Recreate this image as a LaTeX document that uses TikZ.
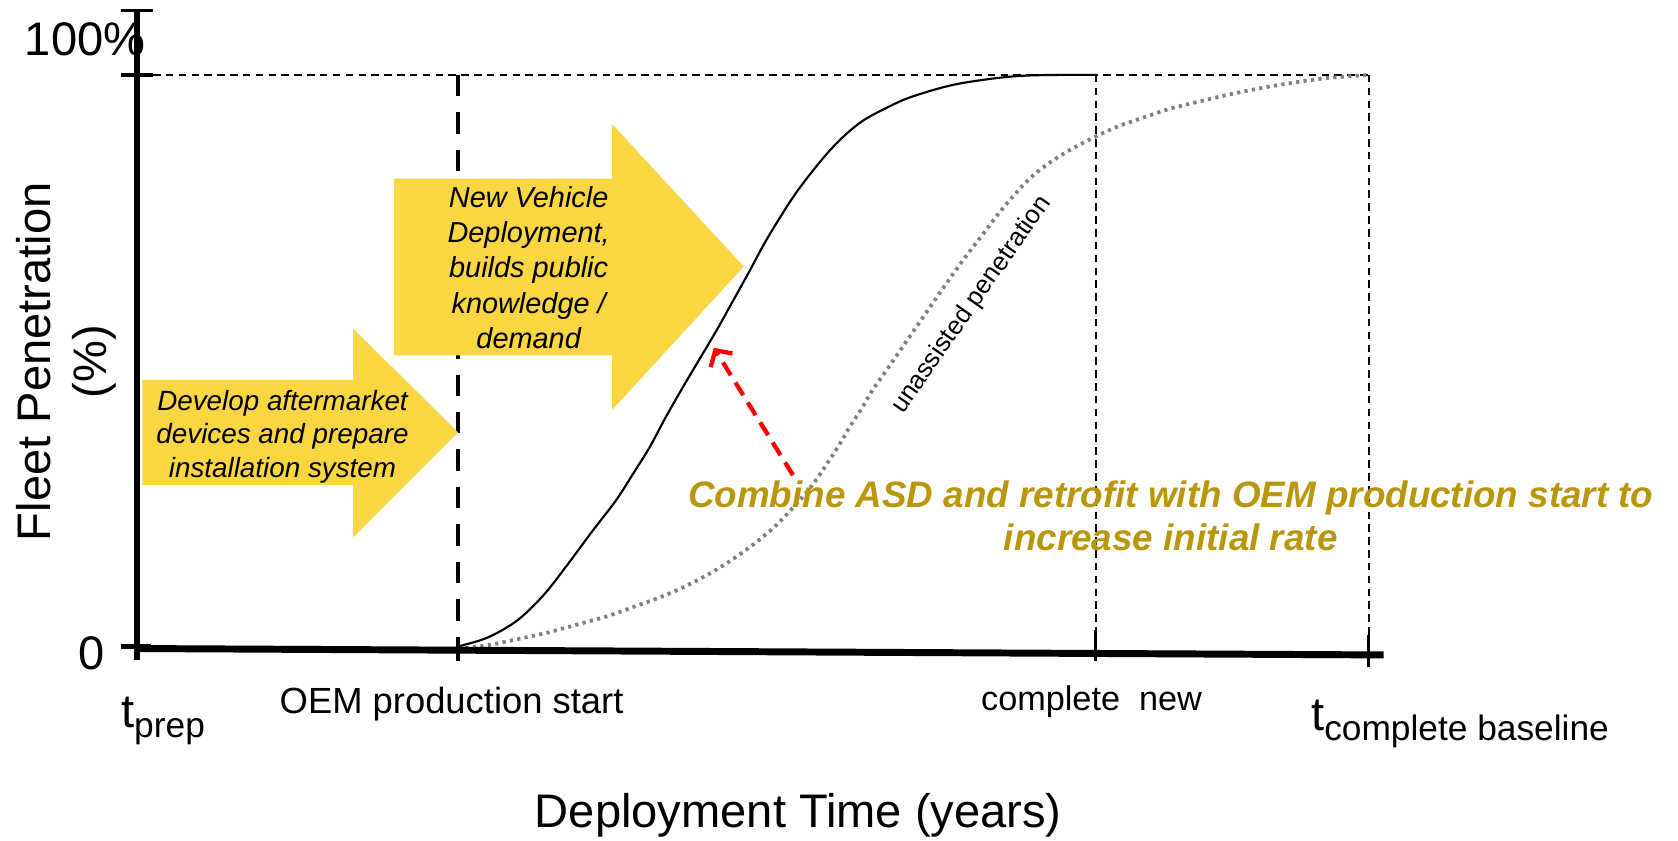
\documentclass[tikz,border=0pt]{standalone}
\usepackage{fontspec}
\setmainfont{Liberation Sans}
\usetikzlibrary{arrows.meta}
\definecolor{arrowyellow}{RGB}{250,214,66}
\definecolor{goldtext}{RGB}{185,150,10}
\definecolor{dotgray}{RGB}{128,128,128}
\newcommand{\fsz}[1]{\fontsize{#1pt}{#1pt}\selectfont}
\begin{document}
\begin{tikzpicture}[x=1pt,y=-1pt,
  thindash/.style={line width=1.5pt,dash pattern=on 7pt off 5pt},
  oemdash/.style={line width=4.5pt,dash pattern=on 20pt off 15pt},
  axisline/.style={line width=6.5pt},
  tickline/.style={line width=3pt},
  bigarrow/.style={fill=arrowyellow,draw=none},
  arrowtext/.style={align=center,inner sep=0pt},
  lbl/.style={inner sep=0pt},
  newcurve/.style={line width=2pt},
  basecurve/.style={line width=3.5pt,dotgray,dash pattern=on 3pt off 4pt},
  redarrow/.style={line width=4pt,red,dash pattern=on 14pt off 8pt,
     -{Straight Barb[length=11pt,width=24pt,line width=4pt]}},
  goldlbl/.style={align=center,inner sep=0pt,text=goldtext}]
\useasboundingbox (0,0) rectangle (1568,785);

% reference coordinates
\coordinate (ytop) at (128,10);
\coordinate (y100) at (128,70);
\coordinate (origin) at (128,606);
\coordinate (xend) at (1293,612);
\coordinate (oemtop) at (428,70);
\coordinate (oembot) at (428,604);
\coordinate (newtop) at (1024,70);
\coordinate (newbot) at (1024,605);
\coordinate (basetop) at (1279,70);
\coordinate (basebot) at (1279,611);

% thin dashed guides
\draw[thindash] (143,70) -- (basetop);
\draw[thindash] (newtop) -- (newbot);
\draw[thindash] (basetop) -- (basebot);

% OEM production start dashed line
\draw[oemdash] (oemtop) -- (oembot);

% yellow arrows
\path[bigarrow] (133,355) -- (330,355) -- (330,307) -- (428,404) -- (330,502) -- (330,453) -- (133,453) -- cycle;
\path[bigarrow] (368,167) -- (572,167) -- (572,116) -- (695,249) -- (572,383) -- (572,332) -- (368,332) -- cycle;

\node[arrowtext,font={\fontsize{26pt}{31pt}\selectfont\itshape}] (devtext) at (264,408)
  {Develop aftermarket\\ devices and prepare\\ installation system};
\node[arrowtext,font={\fontsize{27pt}{33pt}\selectfont\itshape}] (newtext) at (494,250)
  {New Vehicle\\ Deployment,\\ builds public\\ knowledge /\\ demand};

% curves
\draw[newcurve] plot[smooth,tension=0.55] coordinates {(428,604) (455,596) (483,580) (508,556) (530,528) (553,497) (576,467) (592,442) (607,418) (622,390) (638,362) (654,335) (670,308) (685,281) (700,254) (714,228) (729,203) (744,180) (760,159) (775,141) (791,125) (806,113) (822,104) (845,93) (869,85) (892,79) (916,75) (940,72) (962,70.5) (990,70) (1024,70)};
\draw[basecurve] plot[smooth,tension=0.55] coordinates {(428,606) (455,603) (480,598) (512,591) (545,582) (570,575) (595,566) (617,558) (638,549) (670,532) (701,511) (724,492) (745,470) (760,452) (773,433) (784,416) (794,399) (805,382) (815,365) (827,348) (838,332) (858,303) (878,274) (897,247) (916,222) (932,201) (947,183) (962,167) (978,154) (1000,140) (1025,127) (1045,118) (1065,111) (1092,102) (1120,95) (1150,88) (1180,82) (1210,77) (1240,73) (1279,70)};

\node[lbl,rotate=55,font=\fsz{24}] (unassisted) at (908,285) {unassisted penetration};

% axes
\draw[axisline] (ytop) -- (128,617);
\draw[axisline] (origin) -- (xend);
\draw[tickline] (113,10) -- (143,10);
\draw[tickline] (113,70) -- (143,70);
\draw[line width=4pt] (113,604) -- (141,604);
\draw[tickline] (428,596) -- (428,618);
\draw[tickline] (1024,589) -- (1024,618);
\draw[tickline] (1279,593) -- (1279,623);

% axis labels
\node[lbl,anchor=east,font=\fsz{44}] (lab100) at (136,37) {100\%};
\node[lbl,font=\fsz{44}] (lab0) at (86,610) {0};
\node[lbl,rotate=90,font=\fsz{44}] (ylab) at (31,338) {Fleet Penetration};
\node[lbl,rotate=90,font=\fsz{44}] (ylabpct) at (88,338) {(\%)};
\node[lbl,font=\fsz{44}] (xlab) at (746,762) {Deployment Time (years)};

\node[lbl,anchor=base west] (tprep) at (113,680)
  {\fsz{44}t\fsz{33}\raisebox{-9pt}{prep}};
\node[lbl,anchor=base,font=\fsz{34}] (oemlab) at (422,667) {OEM production start};
\node[lbl,anchor=base,font=\fsz{32}] (newlab) at (1020,664) {complete\ \ new};
\node[lbl,anchor=base west] (tbase) at (1225,683)
  {\fsz{44}t\fsz{33}\raisebox{-9pt}{complete baseline}};

% red dashed arrow
\coordinate (redstart) at (741,444);
\coordinate (redend) at (667,325);
\draw[redarrow] (redstart) -- (redend);

% gold annotation
\node[goldlbl,font={\fontsize{34.4pt}{41pt}\selectfont\bfseries\itshape}] (combine) at (1094,482)
  {Combine ASD and retrofit with OEM production start to\\ increase initial rate};
\end{tikzpicture}
\end{document}
